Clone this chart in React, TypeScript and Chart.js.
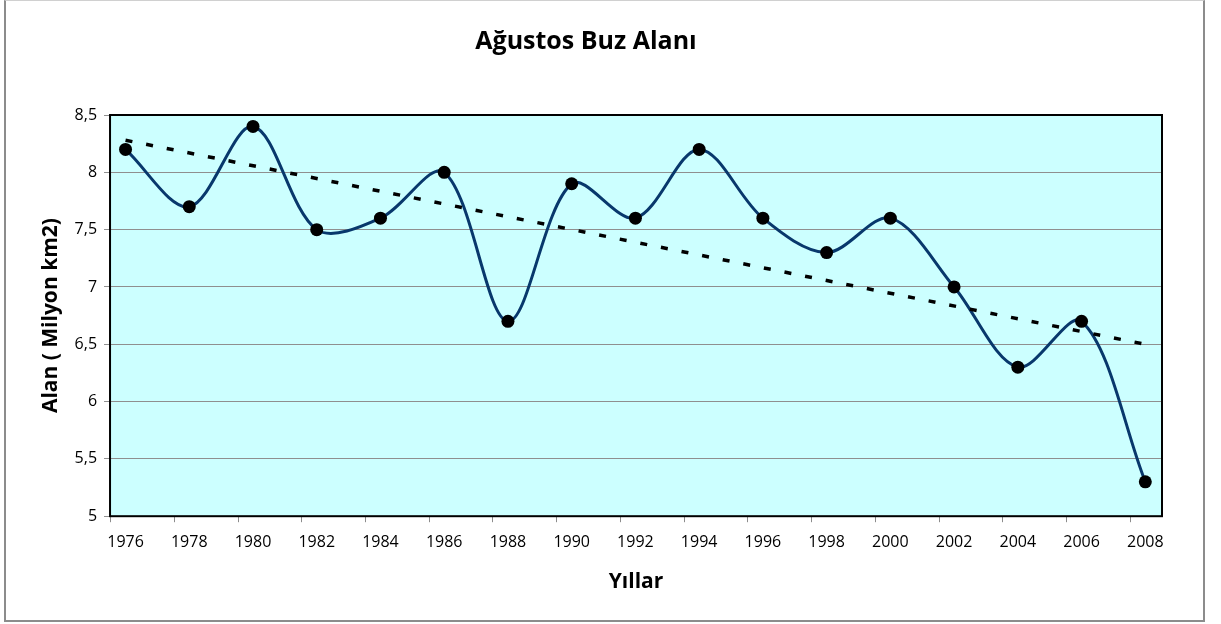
import React, { useEffect, useRef } from "react";
import { Chart, registerables } from "chart.js";

Chart.register(...registerables);

const years = ["1976", "1978", "1980", "1982", "1984", "1986", "1988", "1990", "1992", "1994", "1996", "1998", "2000", "2002", "2004", "2006", "2008"];
const iceArea = [8.2, 7.7, 8.4, 7.5, 7.6, 8.0, 6.7, 7.9, 7.6, 8.2, 7.6, 7.3, 7.6, 7.0, 6.3, 6.7, 5.3];
const trendIndex = [0, 16];
const trendValues = [8.28, 6.5];
const yTicks = [5, 5.5, 6, 6.5, 7, 7.5, 8, 8.5];

const FONT = '"Open Sans", "Noto Sans", sans-serif';
const TICK_SHIFT = 0.243;

const framePlugin = {
  id: "framePlugin",
  beforeDraw(chart: any) {
    const { ctx, chartArea } = chart;
    ctx.save();
    ctx.fillStyle = "#CCFFFF";
    ctx.fillRect(chartArea.left, chartArea.top, chartArea.right - chartArea.left, chartArea.bottom - chartArea.top);
    ctx.restore();
  },
  beforeDatasetsDraw(chart: any) {
    const { ctx, chartArea, scales } = chart;
    const xs = scales.x;
    ctx.save();
    ctx.strokeStyle = "#8c8c8c";
    ctx.lineWidth = 1;
    ctx.beginPath();
    for (let i = 0; i < years.length; i++) {
      const px = Math.round(xs.getPixelForValue(i - TICK_SHIFT)) + 0.5;
      ctx.moveTo(px, chartArea.bottom);
      ctx.lineTo(px, chartArea.bottom + 6);
    }
    ctx.stroke();
    ctx.strokeStyle = "#000";
    ctx.lineWidth = 2;
    ctx.strokeRect(chartArea.left, chartArea.top, chartArea.right - chartArea.left, chartArea.bottom - chartArea.top);
    ctx.restore();
  },
};

export default function App() {
  const canvasRef = useRef<HTMLCanvasElement | null>(null);

  useEffect(() => {
    if (!canvasRef.current) return;
    Chart.defaults.font.family = FONT;
    Chart.defaults.color = "#000";
    const chart = new Chart(canvasRef.current, {
      type: "line",
      data: {
        datasets: [
          {
            label: "Trend",
            data: trendIndex.map((x, i) => ({ x, y: trendValues[i] })),
            borderColor: "#000",
            borderWidth: 3.5,
            borderDash: [7, 14],
            pointRadius: 0,
            tension: 0,
            order: 0,
          },
          {
            label: "Ağustos Buz Alanı",
            data: iceArea.map((y, x) => ({ x, y })),
            borderColor: "#08386C",
            borderWidth: 3,
            tension: 0.33,
            pointRadius: 6.5,
            pointBackgroundColor: "#000",
            pointBorderColor: "#000",
            pointBorderWidth: 0,
            order: 1,
          },
        ],
      },
      options: {
        animation: false,
        responsive: false,
        devicePixelRatio: 1,
        layout: { padding: { left: 10, right: 59, top: 0, bottom: 20 } },
        plugins: {
          legend: { display: false },
          tooltip: { enabled: false },
          title: {
            display: true,
            text: "Ağustos Buz Alanı",
            color: "#000",
            font: { family: FONT, size: 25, weight: "bold" },
            padding: { top: 27, bottom: 58 },
          },
        },
        scales: {
          x: {
            type: "linear",
            min: -TICK_SHIFT,
            max: 16.262,
            afterBuildTicks: (scale: any) => {
              scale.ticks = years.map((_, i) => ({ value: i }));
            },
            ticks: {
              autoSkip: false,
              maxRotation: 0,
              padding: 17,
              color: "#000",
              font: { family: FONT, size: 16 },
              callback: (v: any) => years[Math.round(Number(v))] ?? "",
            },
            grid: { display: false, drawTicks: false },
            border: { display: false },
            title: {
              display: true,
              text: "Yıllar",
              color: "#000",
              font: { family: FONT, size: 21, weight: "bold" },
              padding: { top: 0, bottom: 9.4 },
            },
          },
          y: {
            type: "linear",
            min: 5,
            max: 8.5,
            afterBuildTicks: (scale: any) => {
              scale.ticks = yTicks.map((v) => ({ value: v }));
            },
            ticks: {
              padding: 7,
              color: "#000",
              font: { family: FONT, size: 16 },
              callback: (v: any) => String(v).replace(".", ","),
            },
            grid: { color: "#8f8f8f", lineWidth: 1, tickLength: 6 },
            border: { display: false },
            title: {
              display: true,
              text: "Alan ( Milyon km2)",
              color: "#000",
              font: { family: FONT, size: 21, weight: "bold" },
              padding: { top: 28.4, bottom: 4 },
            },
          },
        },
      },
      plugins: [framePlugin],
    } as any);
    return () => chart.destroy();
  }, []);

  return (
    <div style={{ position: "fixed", left: 0, top: 0, width: 1221, height: 624, background: "#fff" }}>
      <div
        style={{
          position: "absolute",
          left: 4,
          top: 0,
          width: 1197,
          height: 619,
          borderTop: "1px solid #d0d0d0",
          borderLeft: "2px solid #8c8c8c",
          borderRight: "2px solid #8c8c8c",
          borderBottom: "2px solid #8c8c8c",
          boxSizing: "content-box",
        }}
      />
      <canvas ref={canvasRef} width={1221} height={624} style={{ position: "absolute", left: 0, top: 0, width: 1221, height: 624 }} />
    </div>
  );
}
